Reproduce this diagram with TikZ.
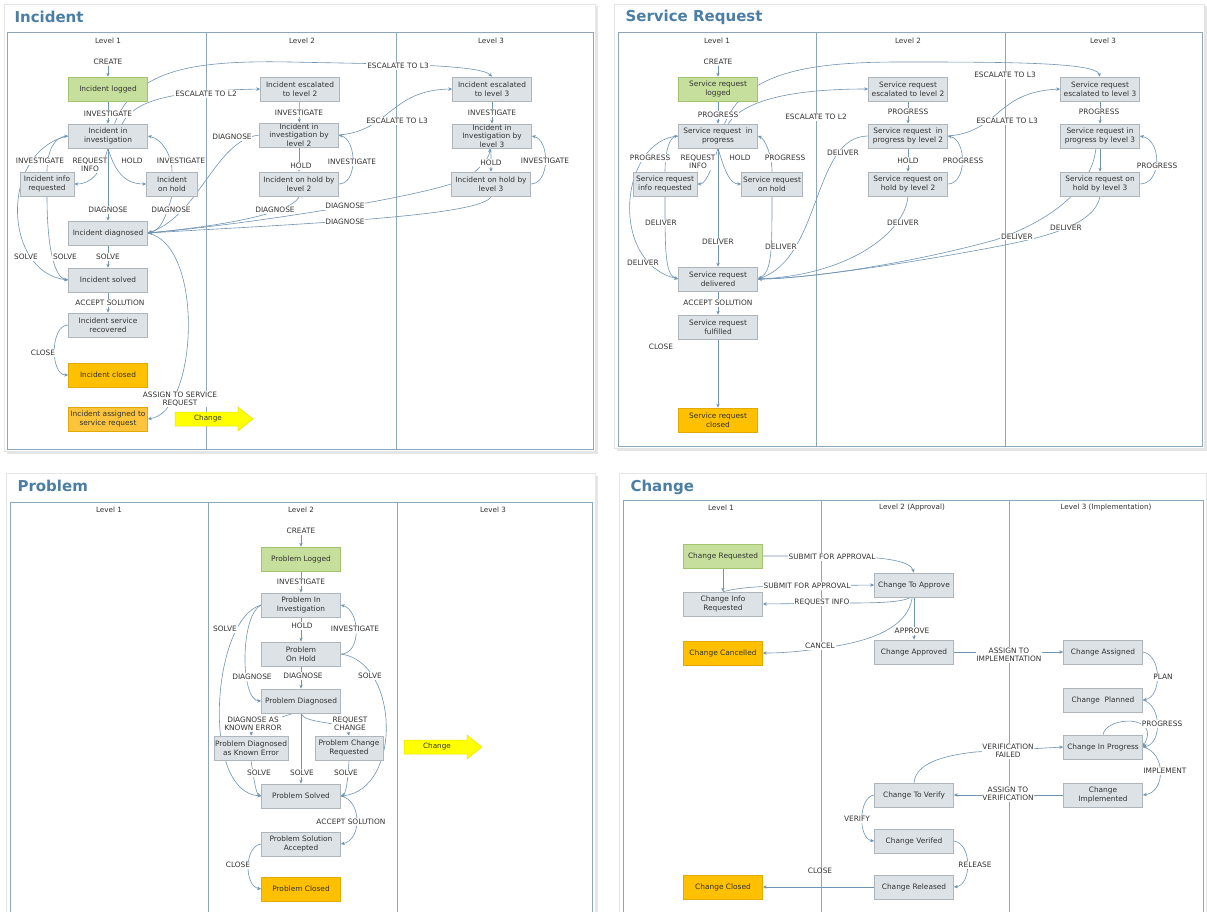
\documentclass[tikz,border=0pt]{standalone}
\usepackage{fontspec}
\setmainfont{DejaVu Sans}
\usetikzlibrary{arrows.meta,shadows}

\definecolor{boxfill}{HTML}{DCE2E6}
\definecolor{boxline}{HTML}{AEB6BC}
\definecolor{grfill}{HTML}{C6DF9C}
\definecolor{grline}{HTML}{A3C46E}
\definecolor{orfill}{HTML}{FFC000}
\definecolor{orline}{HTML}{E2A900}
\definecolor{orlight}{HTML}{FBC43C}
\definecolor{flowc}{HTML}{7094B3}
\definecolor{lanec}{HTML}{8CA6BD}
\definecolor{txt}{HTML}{333333}
\definecolor{ttlc}{HTML}{4B7EA5}
\definecolor{yfill}{HTML}{FFFF00}
\definecolor{yline}{HTML}{E8E000}

\pgfdeclarelayer{fg}
\pgfsetlayers{main,fg}

\tikzset{
  state/.style={draw=boxline, fill=boxfill, line width=0.6pt, minimum width=79pt,
    minimum height=24pt, inner xsep=1pt, inner ysep=0.5pt, align=center,
    font=\fontsize{7.4}{8.5}\selectfont, text=txt},
  start/.style={state, fill=grfill, draw=grline},
  final/.style={state, fill=orfill, draw=orline},
  act/.style={font=\fontsize{7.4}{8.2}\selectfont, text=txt, fill=white,
    inner sep=0.8pt, align=center},
  flow/.style={draw=flowc, line width=0.6pt, -{Stealth[length=4pt,width=3.4pt]}},
  lane/.style={draw=lanec, line width=0.7pt},
  hdr/.style={font=\fontsize{7.2}{8}\selectfont, text=txt},
  ttl/.style={font=\fontsize{15}{18}\selectfont\bfseries, text=ttlc, anchor=west},
  card/.style={fill=white, draw=black!10,
    drop shadow={shadow xshift=2.5pt, shadow yshift=-2.5pt, opacity=0.2}},
  chgtext/.style={font=\fontsize{7.2}{8}\selectfont, text=txt},
}

% yellow block arrow pointing right, shaft starting at (#1,#2)
\newcommand\ChangeArrow[2]{%
  \begin{scope}[shift={(#1,#2)}]
    \filldraw[fill=yfill, draw=yline, line width=0.5pt]
      (0,-7) -- (63,-7) -- (63,-12) -- (78,0) -- (63,12) -- (63,7) -- (0,7) -- cycle;
  \end{scope}}

\begin{document}
\begin{tikzpicture}[x=1pt, y=-1pt]
\useasboundingbox (0,0) rectangle (1207,912);
\clip (0,0) rectangle (1207,912);

% ================= cards and swim lanes =================
\fill[white] (0,0) rectangle (1207,912);
\path[card] (4,4) rectangle (595,451);
\path[card] (614,4) rectangle (1204,448);
\path[card] (6,473) rectangle (595,930);
\path[card] (619,473) rectangle (1206,930);

\draw[lane] (7,32) rectangle (593,449);
\draw[lane] (206,32) -- (206,449) (396,32) -- (396,449);
\draw[lane] (618,32) rectangle (1202,446);
\draw[lane] (816,32) -- (816,446) (1005,32) -- (1005,446);
\draw[lane] (10,502) rectangle (592,940);
\draw[lane] (208,502) -- (208,940) (397,502) -- (397,940);
\draw[lane] (623,500) rectangle (1203,940);
\draw[lane] (821,500) -- (821,940) (1009,500) -- (1009,940);

\node[ttl] (t-inc) at (11,17) {Incident};
\node[ttl] (t-sr) at (622,17) {Service Request};
\node[ttl] (t-prb) at (14,486) {Problem};
\node[ttl] (t-chg) at (627,487) {Change};

\node[hdr] (h-i1) at (108,41) {Level 1};
\node[hdr] (h-i2) at (302,41) {Level 2};
\node[hdr] (h-i3) at (491,41) {Level 3};
\node[hdr] (h-s1) at (717,41) {Level 1};
\node[hdr] (h-s2) at (908,41) {Level 2};
\node[hdr] (h-s3) at (1103,41) {Level 3};
\node[hdr] (h-p1) at (109,510) {Level 1};
\node[hdr] (h-p2) at (301,510) {Level 2};
\node[hdr] (h-p3) at (493,510) {Level 3};
\node[hdr] (h-c1) at (721,508) {Level 1};
\node[hdr] (h-c2) at (912,508) {Level 2 (Approval)};
\node[hdr] (h-c3) at (1106,508) {Level 3 (Implementation)};

% ================= states =================
\begin{pgfonlayer}{fg}
% Incident
\node[start] (i-logged) at (108,89) {Incident logged};
\node[state] (i-inv) at (108,136) {Incident in\\investigation};
\node[state, minimum width=54pt] (i-info) at (47,184) {Incident info\\requested};
\node[state, minimum width=51pt] (i-hold) at (172,184) {Incident\\on hold};
\node[state] (i-diag) at (108,233) {Incident diagnosed};
\node[state] (i-solved) at (108,280) {Incident solved};
\node[state] (i-rec) at (108,325) {Incident service\\recovered};
\node[final] (i-closed) at (108,375) {Incident closed};
\node[final, fill=orlight] (i-assigned) at (108,419) {Incident assigned to\\service request};
\node[state] (i-esc2) at (300,89) {Incident escalated\\to level 2};
\node[state] (i-inv2) at (299,135) {Incident in\\investigation by\\level 2};
\node[state] (i-hold2) at (299,184) {Incident on hold by\\level 2};
\node[state] (i-esc3) at (492,89) {Incident escalated\\to level 3};
\node[state] (i-inv3) at (492,136) {Incident in\\Investigation by\\level 3};
\node[state] (i-hold3) at (491,184) {Incident on hold by\\level 3};
% Service request
\node[start] (s-logged) at (718,89) {Service request\\logged};
\node[state] (s-prog) at (718,136) {Service request~~in\\progress};
\node[state, minimum width=64pt] (s-info) at (665,184) {Service request\\info requested};
\node[state, minimum width=61pt] (s-hold) at (772,184) {Service request\\on hold};
\node[state] (s-deliv) at (718,279) {Service request\\delivered};
\node[state] (s-ful) at (718,327) {Service request\\fulfilled};
\node[final] (s-closed) at (718,420) {Service request\\closed};
\node[state] (s-esc2) at (908,89) {Service request\\escalated to level 2};
\node[state] (s-prog2) at (908,136) {Service request~~in\\progress by level 2};
\node[state] (s-hold2) at (908,184) {Service request on\\hold by level 2};
\node[state] (s-esc3) at (1100,89) {Service request\\escalated to level 3};
\node[state] (s-prog3) at (1100,136) {Service request in\\progress by level 3};
\node[state] (s-hold3) at (1100,184) {Service request on\\hold by level 3};
% Problem
\node[start] (p-logged) at (301,559) {Problem Logged};
\node[state] (p-inv) at (301,605) {Problem In\\Investigation};
\node[state] (p-hold) at (301,654) {Problem\\On Hold};
\node[state] (p-diag) at (301,701) {Problem Diagnosed};
\node[state, minimum width=74pt] (p-ke) at (251,748) {Problem Diagnosed\\as Known Error};
\node[state, minimum width=68pt] (p-cr) at (349,748) {Problem Change\\Requested};
\node[state] (p-solved) at (301,796) {Problem Solved};
\node[state] (p-acc) at (301,844) {Problem Solution\\Accepted};
\node[final] (p-closed) at (301,889) {Problem Closed};
% Change
\node[start] (c-req) at (723,556) {Change Requested};
\node[state] (c-info) at (723,604) {Change Info\\Requested};
\node[final] (c-canc) at (723,653) {Change Cancelled};
\node[state] (c-toappr) at (914,585) {Change To Approve};
\node[state] (c-appr) at (914,652) {Change Approved};
\node[state] (c-assigned) at (1103,652) {Change Assigned};
\node[state] (c-planned) at (1103,700) {Change~~Planned};
\node[state] (c-inprog) at (1103,747) {Change In Progress};
\node[state] (c-impl) at (1103,795) {Change\\Implemented};
\node[state] (c-toverify) at (914,795) {Change To Verify};
\node[state] (c-verified) at (914,841) {Change Verifed};
\node[state] (c-released) at (914,887) {Change Released};
\node[final] (c-closed) at (723,887) {Change Closed};
\end{pgfonlayer}

% ================= Incident transitions =================
\node[act] (il-create) at (108,62) {CREATE};
\draw[flow] (il-create) -- (i-logged);
\draw[flow] (i-logged) -- (i-inv);
\draw[flow] (i-inv.south) .. controls (101,172) and (92,184) .. (i-info.east);
\draw[flow] (i-inv.south) .. controls (115,172) and (125,184) .. (i-hold.west);
\draw[flow] (i-hold.north) .. controls (172,155) and (162,139) .. (i-inv.east);
\draw[flow] (i-info.north) .. controls (47,150) and (55,137) .. (i-inv.west);
\draw[flow] (i-inv.west) .. controls (0,150) and (2,272) .. (i-solved.west);
\draw[flow] (i-inv) -- (i-diag);
\draw[flow] (i-hold.south) .. controls (166,215) and (162,230) .. (i-diag.east);
\draw[flow] (i-info.south) .. controls (47,250) and (55,278) .. (i-solved.west);
\draw[flow] (i-diag) -- (i-solved);
\draw[flow] (i-solved) -- (i-rec);
\draw[flow] (i-rec.west) .. controls (50,325) and (50,375) .. (i-closed.west);
\draw[flow] (i-diag.east) .. controls (205,245) and (198,412) .. (i-assigned.east);
\draw[flow] (i-inv.41) .. controls (135,100) and (170,91) .. (i-esc2.west);
\draw[flow] (i-inv.62) .. controls (135,72) and (185,60) .. (290,62)
  .. controls (380,64) and (480,64) .. (i-esc3.north);
\draw[flow] (i-esc2) -- (i-inv2);
\draw[flow] (i-inv2) -- (i-hold2);
\draw[flow] (i-hold2.east) .. controls (358,184) and (357,140) .. (i-inv2.east);
\draw[flow] (i-inv2.east) .. controls (390,131) and (390,90) .. (i-esc3.west);
\draw[flow] (i-inv2.west) .. controls (215,140) and (200,215) .. (i-diag.east);
\draw[flow] (i-hold2.south) .. controls (296,207) and (260,222) .. (i-diag.east);
\draw[flow] (i-esc3) -- (i-inv3);
\draw[flow] (i-inv3.265) -- (i-hold3.north);
\draw[flow] (i-hold3.143) .. controls (482,166) and (489,158) .. (i-inv3.262);
\draw[flow] (i-hold3.east) .. controls (550,184) and (550,140) .. (i-inv3.east);
\draw[flow] (i-hold3.west) .. controls (400,200) and (250,224) .. (i-diag.east);
\draw[flow] (i-hold3.south) .. controls (485,216) and (300,224) .. (i-diag.east);

\node[act] (il-inv) at (108,114) {INVESTIGATE};
\node[act] (il-invl) at (40,161) {INVESTIGATE};
\node[act] (il-req) at (90,165) {REQUEST\\INFO};
\node[act] (il-hold) at (132,161) {HOLD};
\node[act] (il-invr) at (181,161) {INVESTIGATE};
\node[act] (il-dg) at (108,210) {DIAGNOSE};
\node[act] (il-dgr) at (171,210) {DIAGNOSE};
\node[act] (il-s1) at (26,257) {SOLVE};
\node[act] (il-s2) at (65,257) {SOLVE};
\node[act] (il-s3) at (108,257) {SOLVE};
\node[act] (il-acc) at (110,303) {ACCEPT SOLUTION};
\node[act] (il-close) at (43,353) {CLOSE};
\node[act] (il-asg) at (180,399) {ASSIGN TO SERVICE\\REQUEST};
\node[act] (il-e2) at (206,94) {ESCALATE TO L2};
\node[act] (il-e3a) at (398,66) {ESCALATE TO L3};
\node[act] (il-inv2) at (299,113) {INVESTIGATE};
\node[act] (il-hold2) at (301,166) {HOLD};
\node[act] (il-inv2r) at (352,162) {INVESTIGATE};
\node[act] (il-e3b) at (397,121) {ESCALATE TO L3};
\node[act] (il-dg2a) at (232,137) {DIAGNOSE};
\node[act] (il-dg2b) at (275,210) {DIAGNOSE};
\node[act] (il-inv3) at (492,113) {INVESTIGATE};
\node[act] (il-hold3) at (491,163) {HOLD};
\node[act] (il-inv3r) at (545,161) {INVESTIGATE};
\node[act] (il-dg3a) at (345,206) {DIAGNOSE};
\node[act] (il-dg3b) at (345,222) {DIAGNOSE};

\ChangeArrow{175}{419}
\node[chgtext] (i-chg) at (208,419) {Change};

% ================= Service request transitions =================
\node[act] (sl-create) at (718,62) {CREATE};
\draw[flow] (sl-create) -- (s-logged);
\draw[flow] (s-logged) -- (s-prog);
\draw[flow] (s-prog.south) .. controls (710,174) and (705,184) .. (s-info.east);
\draw[flow] (s-prog.south) .. controls (725,172) and (730,184) .. (s-hold.west);
\draw[flow] (s-hold.north) .. controls (772,155) and (765,139) .. (s-prog.east);
\draw[flow] (s-info.north) .. controls (665,150) and (670,137) .. (s-prog.west);
\draw[flow] (s-prog.west) .. controls (620,140) and (608,262) .. (s-deliv.west);
\draw[flow] (s-info.south) .. controls (665,250) and (665,275) .. (s-deliv.west);
\draw[flow] (s-prog) -- (s-deliv);
\draw[flow] (s-hold.south) .. controls (772,250) and (772,272) .. (s-deliv.east);
\draw[flow] (s-prog2.west) .. controls (812,136) and (822,258) .. (s-deliv.east);
\draw[flow] (s-hold2.south) .. controls (905,232) and (850,275) .. (s-deliv.east);
\draw[flow] (s-prog3.252) .. controls (1090,200) and (1030,228) .. (995,240)
  .. controls (900,266) and (800,279) .. (s-deliv.east);
\draw[flow] (s-hold3.south) .. controls (1095,226) and (1040,238) .. (1000,246)
  .. controls (900,265) and (800,279) .. (s-deliv.east);
\draw[flow] (s-deliv) -- (s-ful);
\draw[flow] (s-ful) -- (s-closed);
\draw[flow] (s-prog.50) .. controls (745,98) and (800,89) .. (s-esc2.west);
\draw[flow] (s-prog.62) .. controls (745,75) and (800,62) .. (900,62)
  .. controls (1000,62) and (1096,62) .. (s-esc3.north);
\draw[flow] (s-esc2) -- (s-prog2);
\draw[flow] (s-prog2) -- (s-hold2);
\draw[flow] (s-hold2.east) .. controls (967,184) and (967,140) .. (s-prog2.east);
\draw[flow] (s-prog2.east) .. controls (1000,132) and (995,92) .. (s-esc3.west);
\draw[flow] (s-esc3) -- (s-prog3);
\draw[flow] (s-prog3) -- (s-hold3);
\draw[flow] (s-hold3.east) .. controls (1162,184) and (1162,140) .. (s-prog3.east);

\node[act] (sl-prog) at (718,115) {PROGRESS};
\node[act] (sl-progl) at (650,158) {PROGRESS};
\node[act] (sl-req) at (698,162) {REQUEST\\INFO};
\node[act] (sl-hold) at (740,158) {HOLD};
\node[act] (sl-progr) at (785,158) {PROGRESS};
\node[act] (sl-d1) at (661,223) {DELIVER};
\node[act] (sl-d2) at (718,242) {DELIVER};
\node[act] (sl-d3) at (781,247) {DELIVER};
\node[act] (sl-d4) at (643,263) {DELIVER};
\node[act] (sl-acc) at (718,303) {ACCEPT SOLUTION};
\node[act] (sl-close) at (661,347) {CLOSE};
\node[act] (sl-e2) at (816,117) {ESCALATE TO L2};
\node[act] (sl-e3a) at (1005,75) {ESCALATE TO L3};
\node[act] (sl-prog2) at (908,112) {PROGRESS};
\node[act] (sl-hold2) at (908,161) {HOLD};
\node[act] (sl-prog2r) at (963,161) {PROGRESS};
\node[act] (sl-d5) at (843,153) {DELIVER};
\node[act] (sl-d6) at (903,223) {DELIVER};
\node[act] (sl-e3b) at (1007,121) {ESCALATE TO L3};
\node[act] (sl-prog3) at (1099,112) {PROGRESS};
\node[act] (sl-prog3r) at (1157,166) {PROGRESS};
\node[act] (sl-d7) at (1017,237) {DELIVER};
\node[act] (sl-d8) at (1066,228) {DELIVER};

% ================= Problem transitions =================
\node[act] (pl-create) at (301,531) {CREATE};
\draw[flow] (pl-create) -- (p-logged);
\draw[flow] (p-logged) -- (p-inv);
\draw[flow] (p-inv) -- (p-hold);
\draw[flow] (p-hold.east) .. controls (362,654) and (360,610) .. (p-inv.east);
\draw[flow] (p-hold.east) .. controls (400,662) and (402,790) .. (p-solved.east);
\draw[flow] (p-hold) -- (p-diag);
\draw[flow] (p-inv.west) .. controls (240,615) and (240,700) .. (p-diag.west);
\draw[flow] (p-inv.west) .. controls (212,618) and (200,792) .. (p-solved.west);
\draw[flow] (p-diag.238) .. controls (268,722) and (252,724) .. (p-ke.north);
\draw[flow] (p-diag.south) .. controls (305,725) and (346,720) .. (p-cr.north);
\draw[flow] (p-diag) -- (p-solved);
\draw[flow] (p-ke.south) .. controls (254,780) and (256,794) .. (p-solved.west);
\draw[flow] (p-cr.south) .. controls (348,780) and (346,794) .. (p-solved.east);
\draw[flow] (p-solved.east) .. controls (362,800) and (362,840) .. (p-acc.east);
\draw[flow] (p-acc.west) .. controls (244,846) and (244,886) .. (p-closed.west);

\node[act] (pl-inv) at (301,582) {INVESTIGATE};
\node[act] (pl-hold) at (302,626) {HOLD};
\node[act] (pl-invr) at (355,629) {INVESTIGATE};
\node[act] (pl-sl) at (225,629) {SOLVE};
\node[act] (pl-dgl) at (252,677) {DIAGNOSE};
\node[act] (pl-dg) at (303,676) {DIAGNOSE};
\node[act] (pl-sr) at (370,676) {SOLVE};
\node[act] (pl-ke) at (253,724) {DIAGNOSE AS\\KNOWN ERROR};
\node[act] (pl-cr) at (350,724) {REQUEST\\CHANGE};
\node[act] (pl-s1) at (259,773) {SOLVE};
\node[act] (pl-s2) at (302,773) {SOLVE};
\node[act] (pl-s3) at (346,773) {SOLVE};
\node[act] (pl-acc) at (351,822) {ACCEPT SOLUTION};
\node[act] (pl-close) at (238,865) {CLOSE};

\ChangeArrow{404}{747}
\node[chgtext] (p-chg) at (437,747) {Change};

% ================= Change transitions =================
\draw[flow] (c-req.east) -- (840,556) .. controls (880,557) and (910,560) .. (c-toappr.north);
\draw[flow] (c-req) -- (c-info);
\draw[flow] (c-info.north) .. controls (733,589) and (750,586) .. (790,586) -- (c-toappr.west);
\draw[flow] (c-toappr.255) .. controls (903,602) and (880,603) .. (850,603) -- (c-info.east);
\draw[flow] (c-toappr.262) .. controls (908,628) and (870,641) .. (830,647)
  .. controls (800,652) and (780,653) .. (c-canc.east);
\draw[flow] (c-toappr) -- (c-appr);
\draw[flow] (c-appr) -- (c-assigned);
\draw[flow] (c-assigned.east) .. controls (1162,655) and (1162,697) .. (c-planned.east);
\draw[flow] (c-planned.east) .. controls (1162,705) and (1162,744) .. (c-inprog.east);
\draw[flow] (c-inprog.north) .. controls (1106,716) and (1162,714) .. (c-inprog.east);
\draw[flow] (c-inprog.east) .. controls (1166,752) and (1166,792) .. (c-impl.east);
\draw[flow] (c-impl) -- (c-toverify);
\draw[flow] (c-toverify.north) .. controls (916,764) and (940,756) .. (975,752) -- (c-inprog.west);
\draw[flow] (c-toverify.west) .. controls (858,797) and (858,839) .. (c-verified.west);
\draw[flow] (c-verified.east) .. controls (972,843) and (972,885) .. (c-released.east);
\draw[flow] (c-released) -- (c-closed);

\node[act] (cl-sub1) at (832,557) {SUBMIT FOR APPROVAL};
\node[act] (cl-sub2) at (807,586) {SUBMIT FOR APPROVAL};
\node[act] (cl-ri) at (822,602) {REQUEST INFO};
\node[act] (cl-canc) at (820,646) {CANCEL};
\node[act] (cl-appr) at (912,631) {APPROVE};
\node[act] (cl-asg) at (1009,655) {ASSIGN TO\\IMPLEMENTATION};
\node[act] (cl-plan) at (1163,677) {PLAN};
\node[act] (cl-prog) at (1162,724) {PROGRESS};
\node[act] (cl-impl) at (1165,771) {IMPLEMENT};
\node[act] (cl-vf) at (1008,751) {VERIFICATION\\FAILED};
\node[act] (cl-av) at (1008,794) {ASSIGN TO\\VERIFICATION};
\node[act] (cl-verify) at (857,819) {VERIFY};
\node[act] (cl-rel) at (975,865) {RELEASE};
\node[act, fill=none] (cl-close) at (820,871) {CLOSE};

\end{tikzpicture}
\end{document}
